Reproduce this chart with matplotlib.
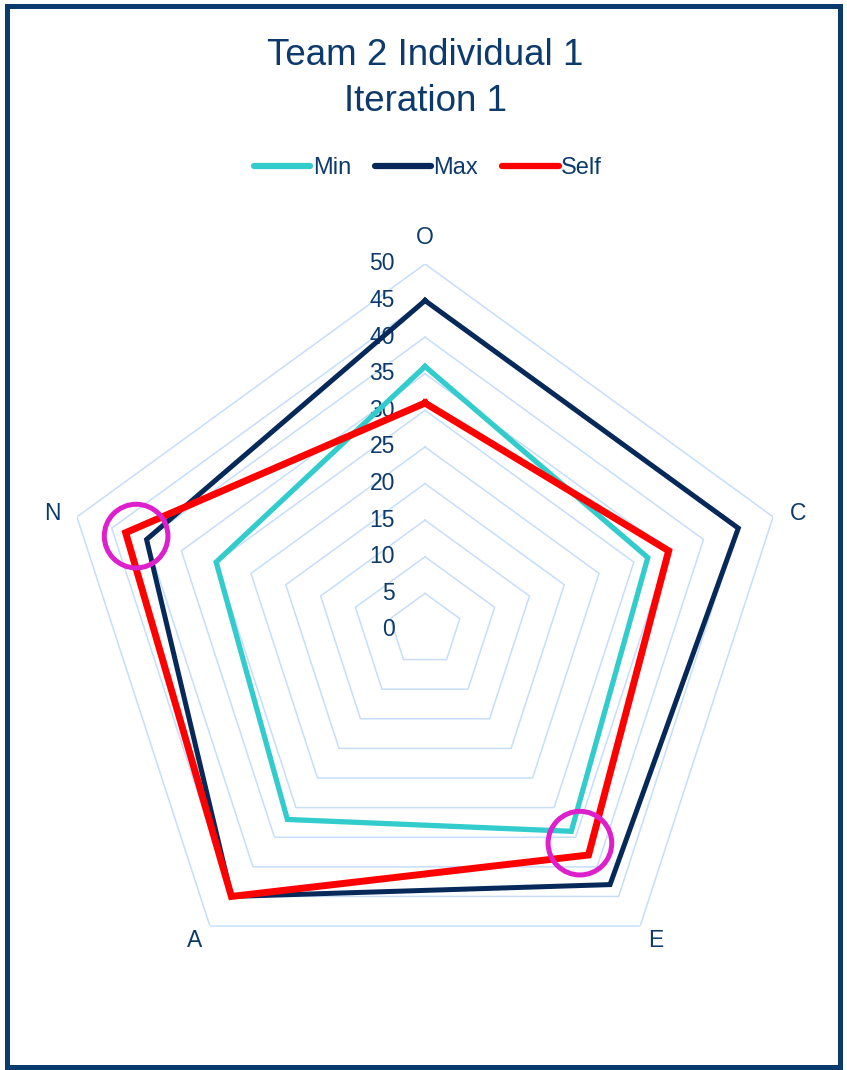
import numpy as np
import matplotlib
matplotlib.use("Agg")
import matplotlib.pyplot as plt
from matplotlib.patches import Rectangle
from matplotlib.lines import Line2D
import matplotlib.transforms as mtransforms

plt.rcParams['font.family'] = ['Liberation Sans', 'DejaVu Sans']

# data
traits = ['O', 'C', 'E', 'A', 'N']
min_vals = [36, 32, 34, 32, 30]
max_vals = [45, 45, 43, 45, 40]
self_vals = [31, 35, 38, 45, 43]
ring_ticks = [0, 5, 10, 15, 20, 25, 30, 35, 40, 45, 50]
# highlighted spots (magenta circles): trait, value
highlight_traits = ['N', 'E']
highlight_vals = [41.5, 36]

text_col = '#0d3a6b'
grid_col = '#c6defa'

fig = plt.figure(figsize=(8.47, 10.70), dpi=100)
ax = fig.add_axes([0.0697, 0.0692, 0.8642, 0.6841], projection='polar')
ax.set_theta_offset(np.pi / 2)
ax.set_theta_direction(-1)

angles = np.linspace(0, 2 * np.pi, len(traits), endpoint=False)
closed = np.append(angles, angles[0])

# pentagon grid
for v in ring_ticks[1:]:
    ax.plot(closed, [v] * len(closed), color=grid_col, lw=1.1, zorder=1)

def close(vals):
    return vals + vals[:1]

ax.plot(closed, close(min_vals), color='#33cccc', lw=3.8, zorder=3,
        solid_joinstyle='miter')
ax.plot(closed, close(max_vals), color='#06295a', lw=3.6, zorder=4,
        solid_joinstyle='miter')
ax.plot(closed, close(self_vals), color='#ff0000', lw=5.0, zorder=5,
        solid_joinstyle='miter')

# magenta highlight circles
h_angles = [angles[traits.index(t)] for t in highlight_traits]
ax.scatter(h_angles, highlight_vals, s=2100, facecolors='none',
           edgecolors='#dd1fcc', linewidths=3.6, zorder=6)

ax.set_ylim(0, 50)
ax.grid(False)
ax.spines['polar'].set_visible(False)
ax.set_xticks([])
ax.set_yticks([])
ax.patch.set_alpha(0)

# radial value labels left of the O axis
off = mtransforms.offset_copy(ax.transData, fig=fig, x=-30, y=0, units='dots')
for v in ring_ticks:
    ax.text(0, v, str(v), transform=off, ha='right', va='center',
            fontsize=16.5, color=text_col, zorder=2)

# category labels (small vertical nudges in pixels)
label_dy = [0, -5, 7, 7, -5]
for a, t, dy in zip(angles, traits, label_dy):
    tr = mtransforms.offset_copy(ax.transData, fig=fig, x=0, y=dy,
                                 units='dots')
    ax.text(a, 53.6, t, transform=tr, ha='center', va='center',
            fontsize=16.5, color=text_col)

fig.text(0.502, 0.9265, 'Team 2 Individual 1\nIteration 1', ha='center',
         va='center', fontsize=26.5, color=text_col, linespacing=1.4)

handles = [Line2D([], [], color='#33cccc', lw=4.5, solid_capstyle='round'),
           Line2D([], [], color='#06295a', lw=4.5, solid_capstyle='round'),
           Line2D([], [], color='#ff0000', lw=4.5, solid_capstyle='round')]
fig.legend(handles, ['Min', 'Max', 'Self'], loc='center',
           bbox_to_anchor=(0.505, 0.843), ncol=3, frameon=False,
           fontsize=17, labelcolor=text_col, handlelength=2.4,
           handletextpad=0.1, columnspacing=1.0)

# outer frame
fig.patches.append(Rectangle((7 / 847, 3 / 1070), 833 / 847, 1061 / 1070,
                             transform=fig.transFigure, fill=False,
                             edgecolor='#0b3a6e', lw=3.6))

fig.savefig('out.png', dpi=100)
